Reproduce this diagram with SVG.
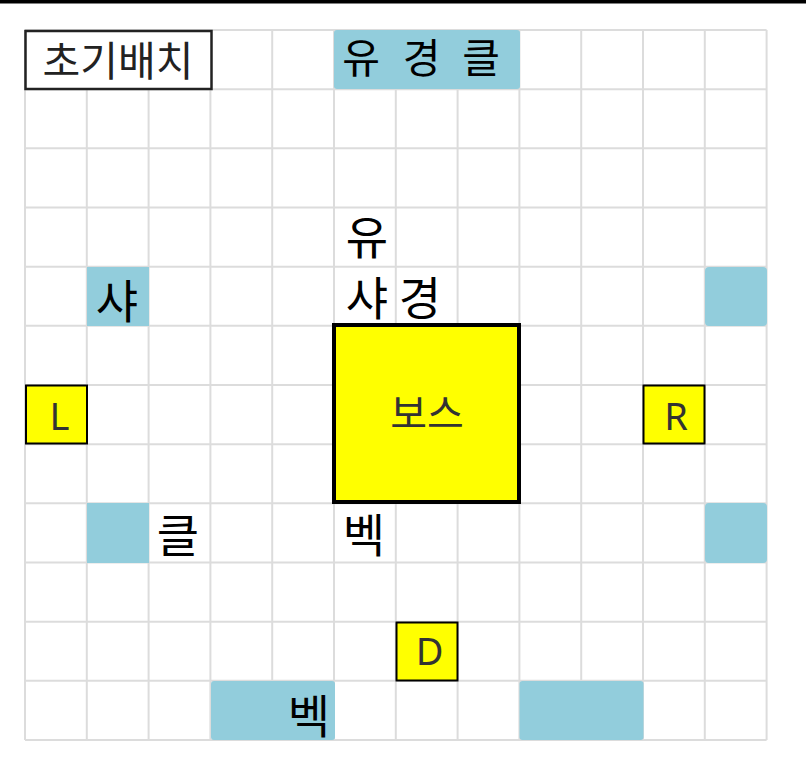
<svg xmlns="http://www.w3.org/2000/svg" width="806" height="764" viewBox="0 0 806 764">
<style>
.grid line{stroke:#dcdcdc;stroke-width:2}
.blue{fill:#92cddc}
.k{font-family:"Noto Sans CJK KR","Noto Sans",sans-serif;fill:#000;text-anchor:middle}
.y{fill:#ffff00;stroke:#000;stroke-width:2}
.lt{font-family:"Noto Sans","Liberation Sans",sans-serif;font-size:38px;fill:#333;text-anchor:middle}
</style>
<rect width="806" height="764" fill="#fff"/>
<rect x="0" y="0" width="806" height="3.5" fill="#000"/>
<g class="grid">
<line x1="25" y1="30" x2="25" y2="740"/>
<line x1="86.8" y1="30" x2="86.8" y2="740"/>
<line x1="148.6" y1="30" x2="148.6" y2="740"/>
<line x1="210.4" y1="30" x2="210.4" y2="740"/>
<line x1="272.2" y1="30" x2="272.2" y2="740"/>
<line x1="334" y1="30" x2="334" y2="740"/>
<line x1="395.8" y1="30" x2="395.8" y2="740"/>
<line x1="457.6" y1="30" x2="457.6" y2="740"/>
<line x1="519.4" y1="30" x2="519.4" y2="740"/>
<line x1="581.2" y1="30" x2="581.2" y2="740"/>
<line x1="643" y1="30" x2="643" y2="740"/>
<line x1="704.8" y1="30" x2="704.8" y2="740"/>
<line x1="766.6" y1="30" x2="766.6" y2="740"/>
<line x1="25" y1="30" x2="766.6" y2="30"/>
<line x1="25" y1="89.2" x2="766.6" y2="89.2"/>
<line x1="25" y1="148.3" x2="766.6" y2="148.3"/>
<line x1="25" y1="207.5" x2="766.6" y2="207.5"/>
<line x1="25" y1="266.7" x2="766.6" y2="266.7"/>
<line x1="25" y1="325.8" x2="766.6" y2="325.8"/>
<line x1="25" y1="385" x2="766.6" y2="385"/>
<line x1="25" y1="444.2" x2="766.6" y2="444.2"/>
<line x1="25" y1="503.3" x2="766.6" y2="503.3"/>
<line x1="25" y1="562.5" x2="766.6" y2="562.5"/>
<line x1="25" y1="621.7" x2="766.6" y2="621.7"/>
<line x1="25" y1="680.8" x2="766.6" y2="680.8"/>
<line x1="25" y1="740" x2="766.6" y2="740"/>
</g>
<g id="title">
<rect x="25.5" y="31" width="186" height="58" fill="#fff" stroke="#222" stroke-width="2.5"/>
<text x="118" y="76" font-family="Noto Sans CJK KR,sans-serif" font-size="41" fill="#222" text-anchor="middle">초기배치</text>
</g>
<g id="top-row">
<rect class="blue" x="334" y="30" width="186" height="59" rx="3"/>
<text class="k" x="361" y="73" font-size="41">유</text>
<text class="k" x="421.5" y="73" font-size="41">경</text>
<text class="k" x="481" y="73" font-size="41">클</text>
</g>
<g id="label-yu">
<text class="k" x="367" y="254" font-size="46">유</text>
</g>
<g id="label-sya-gyeong">
<text class="k" x="367" y="315" font-size="46">샤</text>
<text class="k" x="420" y="315" font-size="46">경</text>
</g>
<g id="cell-sya">
<rect class="blue" x="87" y="267" width="62" height="59"/>
<text class="k" x="117" y="318" font-size="46">샤</text>
</g>
<g id="cell-right-1">
<rect class="blue" x="705" y="267" width="62" height="59" rx="4"/>
</g>
<g id="boss">
<rect x="334" y="325" width="185" height="177" fill="#ffff00" stroke="#000" stroke-width="4"/>
<text x="427" y="428" font-family="Noto Sans CJK KR,sans-serif" font-size="40" fill="#333" text-anchor="middle">보스</text>
</g>
<g id="L">
<rect class="y" x="26" y="385.5" width="61" height="58"/>
<text class="lt" x="59.5" y="430">L</text>
</g>
<g id="R">
<rect class="y" x="643.5" y="385.5" width="61" height="58"/>
<text class="lt" x="676" y="430">R</text>
</g>
<g id="cell-left-2">
<rect class="blue" x="87" y="503" width="62" height="60"/>
</g>
<g id="label-keul">
<text class="k" x="178" y="552" font-size="46">클</text>
</g>
<g id="label-bek">
<text class="k" x="364" y="552" font-size="46">벡</text>
</g>
<g id="cell-right-2">
<rect class="blue" x="705" y="503" width="62" height="60" rx="4"/>
</g>
<g id="D">
<rect class="y" x="396.5" y="622.5" width="61" height="58"/>
<text class="lt" x="429.5" y="665">D</text>
</g>
<g id="cell-bottom-left">
<rect class="blue" x="211" y="681" width="124" height="59" rx="3"/>
<text class="k" x="309" y="733" font-size="46">벡</text>
</g>
<g id="cell-bottom-right">
<rect class="blue" x="519.5" y="681" width="124" height="59" rx="3"/>
</g>
</svg>
